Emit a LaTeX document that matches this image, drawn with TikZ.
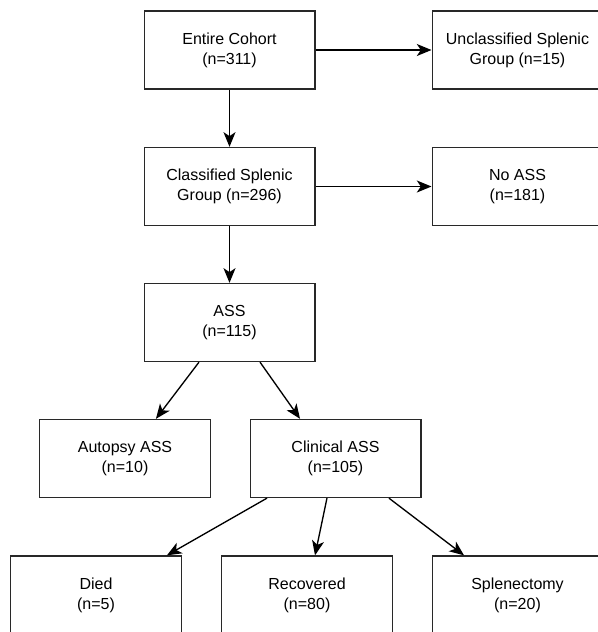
\documentclass[tikz,border=0pt]{standalone}
\usepackage{fontspec}
\setmainfont{Liberation Sans}
\usetikzlibrary{arrows.meta}
\usepackage{xcolor}
\definecolor{boxline}{RGB}{40,40,40}

\begin{document}
\begin{tikzpicture}[x=0.75pt,y=-0.75pt,->,>={Stealth[length=11pt,width=9pt,inset=3pt]},line width=1pt]
  \tikzstyle{block}=[draw=boxline,line width=1pt,minimum width=128pt,minimum height=58.5pt,align=center,font=\fontsize{12}{15}\selectfont,inner sep=0pt]

  \useasboundingbox (0,0) rectangle (598,632);
  \clip (0,0) rectangle (598,632);

  \node[block] (cohort)     at (229.5,50)    {Entire Cohort\\(n=311)};
  \node[block] (unclass)    at (517.5,50)    {Unclassified Splenic\\Group (n=15)};
  \node[block] (classified) at (229.5,186.5) {Classified Splenic\\Group (n=296)};
  \node[block] (noass)      at (517.5,186.5) {No ASS\\(n=181)};
  \node[block] (ass)        at (229.5,322.5) {ASS\\(n=115)};
  \node[block] (autopsy)    at (125,458.5)   {Autopsy ASS\\(n=10)};
  \node[block] (clinical)   at (335.5,458.5) {Clinical ASS\\(n=105)};
  \node[block] (died)       at (96,595)      {Died\\(n=5)};
  \node[block] (recovered)  at (307,595)     {Recovered\\(n=80)};
  \node[block] (splen)      at (517.5,595)   {Splenectomy\\(n=20)};

  \draw (cohort) -- (unclass);
  \draw (cohort) -- (classified);
  \draw (classified) -- (noass);
  \draw (classified) -- (ass);
  \draw ([xshift=-22.9pt]ass.south) -- ([xshift=23.2pt]autopsy.north);
  \draw ([xshift=22.9pt]ass.south) -- ([xshift=-26.6pt]clinical.north);
  \draw ([xshift=-51.4pt]clinical.south) -- ([xshift=53.2pt]died.north);
  \draw ([xshift=-6.4pt]clinical.south) -- ([xshift=6pt]recovered.north);
  \draw ([xshift=40.1pt]clinical.south) -- ([xshift=-40.1pt]splen.north);
\end{tikzpicture}
\end{document}
